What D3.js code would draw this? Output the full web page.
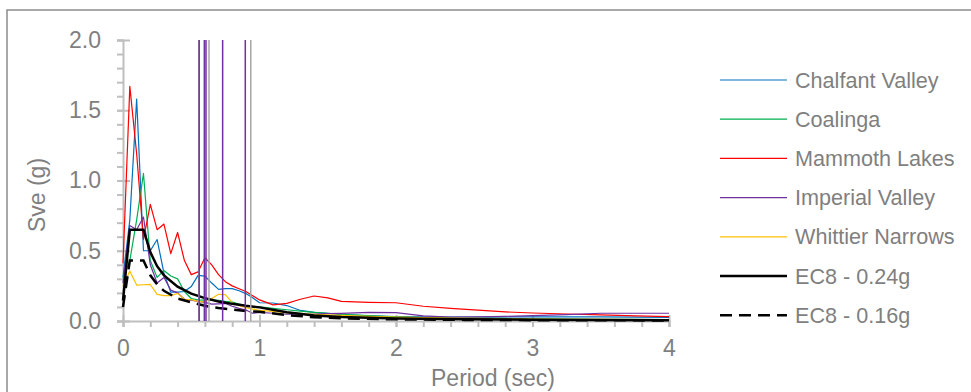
<!DOCTYPE html>
<html>
<head>
<meta charset="utf-8">
<script src="https://cdn.jsdelivr.net/npm/d3@7"></script>
<style>
  html, body { margin: 0; padding: 0; background: #fff; }
  #chart { width: 971px; height: 392px; overflow: hidden; }
</style>
</head>
<body>
<div id="chart"></div>
<script>
// Elastic response spectra vs EC8 design spectra

// period grid shared by the recorded spectra (sec)
var periods = [0, 0.05, 0.1, 0.15, 0.2, 0.25, 0.3, 0.35, 0.4, 0.45, 0.5, 0.55, 0.6, 0.65, 0.7, 0.75, 0.8, 0.85, 0.9, 0.95, 1.0,
    1.1, 1.2, 1.3, 1.4, 1.5, 1.6, 1.8, 2.0, 2.2, 2.4, 2.6, 2.8, 3.0, 3.25, 3.5, 3.75, 4.0];

var chalfantValley = [0.31, 0.72, 1.58, 0.50, 0.50, 0.58, 0.34, 0.205, 0.205, 0.21, 0.245, 0.325, 0.32, 0.27, 0.225, 0.23, 0.23, 0.215, 0.195, 0.165, 0.13,
    0.128, 0.11, 0.075, 0.062, 0.055, 0.046, 0.037, 0.032, 0.030, 0.028, 0.028, 0.030, 0.030, 0.030, 0.030, 0.028, 0.025];
var coalinga = [0.31, 0.43, 0.72, 1.05, 0.43, 0.31, 0.36, 0.32, 0.30, 0.21, 0.16, 0.15, 0.148, 0.147, 0.147, 0.14, 0.135, 0.12, 0.11, 0.103, 0.10,
    0.09, 0.08, 0.07, 0.062, 0.055, 0.048, 0.038, 0.030, 0.025, 0.022, 0.020, 0.018, 0.016, 0.014, 0.012, 0.011, 0.010];
var mammothLakes = [0.41, 1.67, 1.19, 0.58, 0.83, 0.65, 0.69, 0.48, 0.63, 0.43, 0.33, 0.35, 0.45, 0.40, 0.33, 0.28, 0.25, 0.23, 0.21, 0.18, 0.15,
    0.115, 0.125, 0.155, 0.178, 0.165, 0.14, 0.133, 0.13, 0.105, 0.09, 0.077, 0.065, 0.057, 0.05, 0.043, 0.037, 0.031];
var imperialValley = [0.27, 0.68, 0.65, 0.74, 0.40, 0.27, 0.31, 0.22, 0.20, 0.155, 0.148, 0.14, 0.133, 0.12, 0.122, 0.125, 0.105, 0.09, 0.078, 0.055, 0.062,
    0.055, 0.048, 0.048, 0.05, 0.052, 0.054, 0.062, 0.06, 0.037, 0.027, 0.029, 0.033, 0.038, 0.046, 0.055, 0.055, 0.055];
var whittierNarrows = [0.25, 0.355, 0.256, 0.258, 0.26, 0.19, 0.18, 0.18, 0.197, 0.153, 0.152, 0.14, 0.135, 0.16, 0.19, 0.188, 0.13, 0.11, 0.095, 0.085, 0.076,
    0.068, 0.06, 0.054, 0.048, 0.043, 0.04, 0.033, 0.028, 0.024, 0.021, 0.018, 0.016, 0.014, 0.012, 0.011, 0.010, 0.009];

// EC8 design spectra
var ec8Periods = [0, 0.05, 0.15, 0.2, 0.25, 0.3, 0.4, 0.5, 0.6, 0.7, 0.8, 0.9, 1.0, 1.2, 1.4, 1.6, 2.0, 2.5, 3.0, 3.5, 4.0];
var ec8High = [0.145, 0.65, 0.65, 0.49, 0.39, 0.325, 0.244, 0.195, 0.163, 0.139, 0.122, 0.108, 0.097, 0.063, 0.04, 0.028, 0.018, 0.012, 0.009, 0.007, 0.006];
var ec8Low = [0.10, 0.43, 0.43, 0.325, 0.26, 0.215, 0.16, 0.133, 0.108, 0.092, 0.081, 0.072, 0.065, 0.042, 0.027, 0.019, 0.012, 0.008, 0.006, 0.005, 0.004];

// vertical markers (sec)
var markerPeriods = [0.555, 0.558, 0.596, 0.608, 0.63, 0.73, 0.896, 0.936];
var markerKinds = ['grey', 'purple', 'purple', 'purple', 'grey', 'purple', 'purple', 'grey'];

var seriesNames = ['Chalfant Valley', 'Coalinga', 'Mammoth Lakes', 'Imperial Valley', 'Whittier Narrows', 'EC8 - 0.24g', 'EC8 - 0.16g'];
var seriesColors = ['#0070c0', '#00b050', '#ff0000', '#7030a0', '#ffc000', '#000000', '#000000'];

var xTicks = [0, 1, 2, 3, 4];
var yTicks = [0, 0.5, 1.0, 1.5, 2.0];

var width = 971, height = 392;
var margin = { top: 40, right: 302, bottom: 71, left: 123 };
var innerW = width - margin.left - margin.right;
var innerH = height - margin.top - margin.bottom;
var font = 'Liberation Sans, Arial, sans-serif';
var textColor = '#7f7f7f';
var axisColor = '#bfbfbf';

var svg = d3.select('#chart').append('svg')
    .attr('width', width)
    .attr('height', height);

// chart frame (runs past the window on right and bottom)
svg.append('rect')
    .attr('x', 7).attr('y', 10)
    .attr('width', 1000).attr('height', 500)
    .attr('fill', 'none')
    .attr('stroke', '#8c8c8c')
    .attr('stroke-width', 1.5);

var g = svg.append('g')
    .attr('transform', 'translate(' + margin.left + ',' + margin.top + ')');

var x = d3.scaleLinear().domain([0, 4]).range([0, innerW]);
var y = d3.scaleLinear().domain([0, 2]).range([innerH, 0]);

// minor ticks
var xMinor = d3.range(0, 4.001, 0.2);
var yMinor = d3.range(0, 2.001, 0.1);

g.append('g')
    .attr('transform', 'translate(0,' + innerH + ')')
    .call(d3.axisBottom(x).tickValues(xMinor).tickSize(6).tickFormat(''))
    .call(function (s) { s.select('.domain').remove(); });
g.append('g')
    .call(d3.axisLeft(y).tickValues(yMinor).tickSize(6).tickFormat(''))
    .call(function (s) { s.select('.domain').remove(); });

// major axes
var xAxis = g.append('g')
    .attr('transform', 'translate(0,' + innerH + ')')
    .call(d3.axisBottom(x).tickValues(xTicks).tickSize(6).tickFormat(d3.format('d')));
xAxis.selectAll('.tick line').attr('y1', -6);
xAxis.selectAll('text').attr('y', 19);

var yAxis = g.append('g')
    .call(d3.axisLeft(y).tickValues(yTicks).tickSize(6).tickFormat(d3.format('.1f')));
yAxis.selectAll('.tick line').attr('x1', 7);
yAxis.selectAll('text').attr('x', -22);

g.selectAll('.domain, .tick line')
    .attr('stroke', axisColor)
    .attr('stroke-width', 2);
g.selectAll('.tick text')
    .attr('fill', textColor)
    .attr('font-family', font)
    .attr('font-size', '23px');

// recorded spectra
var line = d3.line()
    .x(function (d) { return x(d[0]); })
    .y(function (d) { return y(d[1]); });

var records = [chalfantValley, coalinga, mammothLakes, imperialValley, whittierNarrows];
records.forEach(function (vals, i) {
    g.append('path')
        .datum(periods.map(function (p, k) { return [p, vals[k]]; }))
        .attr('d', line)
        .attr('fill', 'none')
        .attr('stroke', seriesColors[i])
        .attr('stroke-width', 1.2)
        .attr('stroke-linejoin', 'round');
});

g.append('path')
    .datum(ec8Periods.map(function (p, k) { return [p, ec8High[k]]; }))
    .attr('d', line)
    .attr('fill', 'none')
    .attr('stroke', '#000')
    .attr('stroke-width', 2.5);

g.append('path')
    .datum(ec8Periods.map(function (p, k) { return [p, ec8Low[k]]; }))
    .attr('d', line)
    .attr('fill', 'none')
    .attr('stroke', '#000')
    .attr('stroke-width', 2.5)
    .attr('stroke-dasharray', '12,7');

// vertical period markers
g.selectAll('line.marker')
    .data(markerPeriods)
    .join('line')
    .attr('class', 'marker')
    .attr('x1', function (d) { return x(d); })
    .attr('x2', function (d) { return x(d); })
    .attr('y1', y(0))
    .attr('y2', y(2))
    .attr('stroke', function (d, i) { return markerKinds[i] === 'purple' ? '#7030a0' : '#a6a6a6'; })
    .attr('stroke-width', 1.5);

// axis titles
svg.append('text')
    .attr('x', 493)
    .attr('y', 386)
    .attr('text-anchor', 'middle')
    .attr('fill', textColor)
    .attr('font-family', font)
    .attr('font-size', '23px')
    .text('Period (sec)');

svg.append('text')
    .attr('transform', 'translate(45,195) rotate(-90)')
    .attr('text-anchor', 'middle')
    .attr('fill', textColor)
    .attr('font-family', font)
    .attr('font-size', '23px')
    .text('Sve (g)');

// legend
var legend = svg.append('g');
seriesNames.forEach(function (name, i) {
    var ly = 80 + i * 39.2;
    legend.append('line')
        .attr('x1', 720).attr('x2', 787)
        .attr('y1', ly).attr('y2', ly)
        .attr('stroke', seriesColors[i])
        .attr('stroke-width', i >= 5 ? 2.5 : 1.2)
        .attr('stroke-dasharray', i === 6 ? '12,7' : null);
    legend.append('text')
        .attr('x', 795).attr('y', ly)
        .attr('dy', '0.35em')
        .attr('fill', textColor)
        .attr('font-family', font)
        .attr('font-size', '21.6px')
        .text(name);
});
</script>
</body>
</html>
